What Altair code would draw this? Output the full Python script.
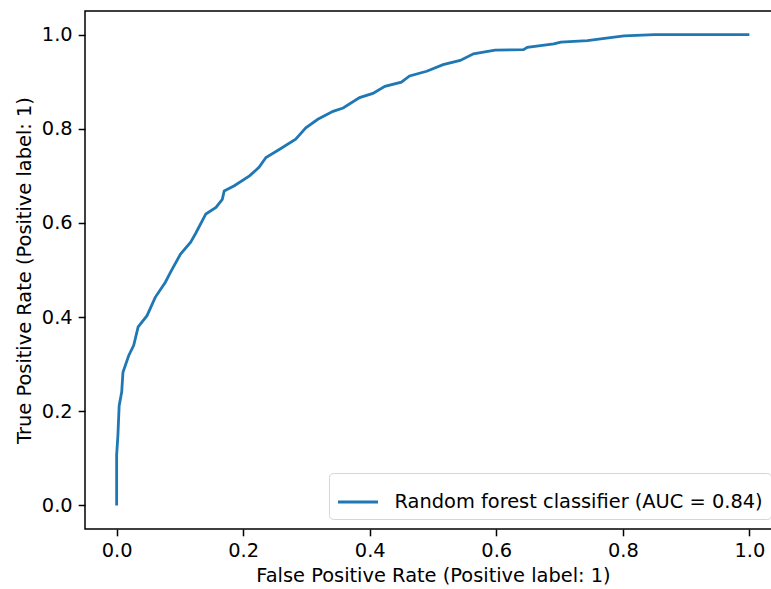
import altair as alt
import pandas as pd

fpr = [0.0, 0.0, 0.0, 0.002, 0.004, 0.008, 0.010, 0.019, 0.027, 0.034, 0.048, 0.061,
       0.077, 0.085, 0.101, 0.117, 0.125, 0.141, 0.157, 0.167, 0.170, 0.186, 0.210,
       0.225, 0.236, 0.257, 0.283, 0.299, 0.318, 0.342, 0.358, 0.384, 0.405, 0.424,
       0.450, 0.463, 0.490, 0.516, 0.543, 0.564, 0.598, 0.643, 0.649, 0.691, 0.702,
       0.744, 0.771, 0.802, 0.850, 1.0]
tpr = [0.0, 0.05, 0.107, 0.149, 0.212, 0.241, 0.283, 0.318, 0.340, 0.379, 0.403, 0.442,
       0.474, 0.495, 0.534, 0.559, 0.578, 0.619, 0.633, 0.650, 0.668, 0.679, 0.700,
       0.718, 0.739, 0.756, 0.778, 0.802, 0.820, 0.837, 0.844, 0.866, 0.875, 0.890,
       0.899, 0.912, 0.922, 0.936, 0.945, 0.959, 0.967, 0.968, 0.973, 0.980, 0.984,
       0.987, 0.992, 0.997, 1.0, 1.0]
series_name = "Random forest classifier (AUC = 0.84)"
tick_values = [0.0, 0.2, 0.4, 0.6, 0.8, 1.0]

df = pd.DataFrame({
    "fpr": fpr,
    "tpr": tpr,
    "order": list(range(len(fpr))),
    "series": [series_name] * len(fpr),
})

FONT = "DejaVu Sans"
FS = 19.4

chart = alt.Chart(df).mark_line(strokeWidth=2.8, clip=True).encode(
    x=alt.X("fpr:Q",
            scale=alt.Scale(domain=[-0.05, 1.05], nice=False, zero=False),
            axis=alt.Axis(values=tick_values, format=".1f", grid=False,
                          title="False Positive Rate (Positive label: 1)",
                          titlePadding=6)),
    y=alt.Y("tpr:Q",
            scale=alt.Scale(domain=[-0.05, 1.05], nice=False, zero=False),
            axis=alt.Axis(values=tick_values, format=".1f", grid=False,
                          title="True Positive Rate (Positive label: 1)",
                          titlePadding=7)),
    order="order:Q",
    color=alt.Color("series:N",
                    scale=alt.Scale(range=["#1f77b4"]),
                    legend=alt.Legend(title=None, orient="bottom-right",
                                      symbolType="stroke", symbolSize=1600,
                                      symbolStrokeWidth=2.8, labelOffset=15,
                                      labelFont=FONT, labelFontSize=FS,
                                      labelColor="black", labelLimit=600,
                                      padding=7.5, offset=10,
                                      strokeColor="#d5d5d5", fillColor="white",
                                      cornerRadius=4)),
).properties(
    width=696,
    height=518,
    background="white",
    autosize=alt.AutoSizeParams(type="none"),
    padding={"left": 85, "top": 11, "right": -10, "bottom": 60},
).configure_view(
    stroke="black", strokeWidth=1.5
).configure_axis(
    domain=False, tickColor="black", tickWidth=1.5, tickSize=6.8,
    labelFont=FONT, labelFontSize=FS, labelColor="black", labelPadding=6,
    titleFont=FONT, titleFontSize=FS, titleFontWeight="normal", titleColor="black",
)

chart.save("out.html", embed_options={"renderer": "svg", "actions": False})
